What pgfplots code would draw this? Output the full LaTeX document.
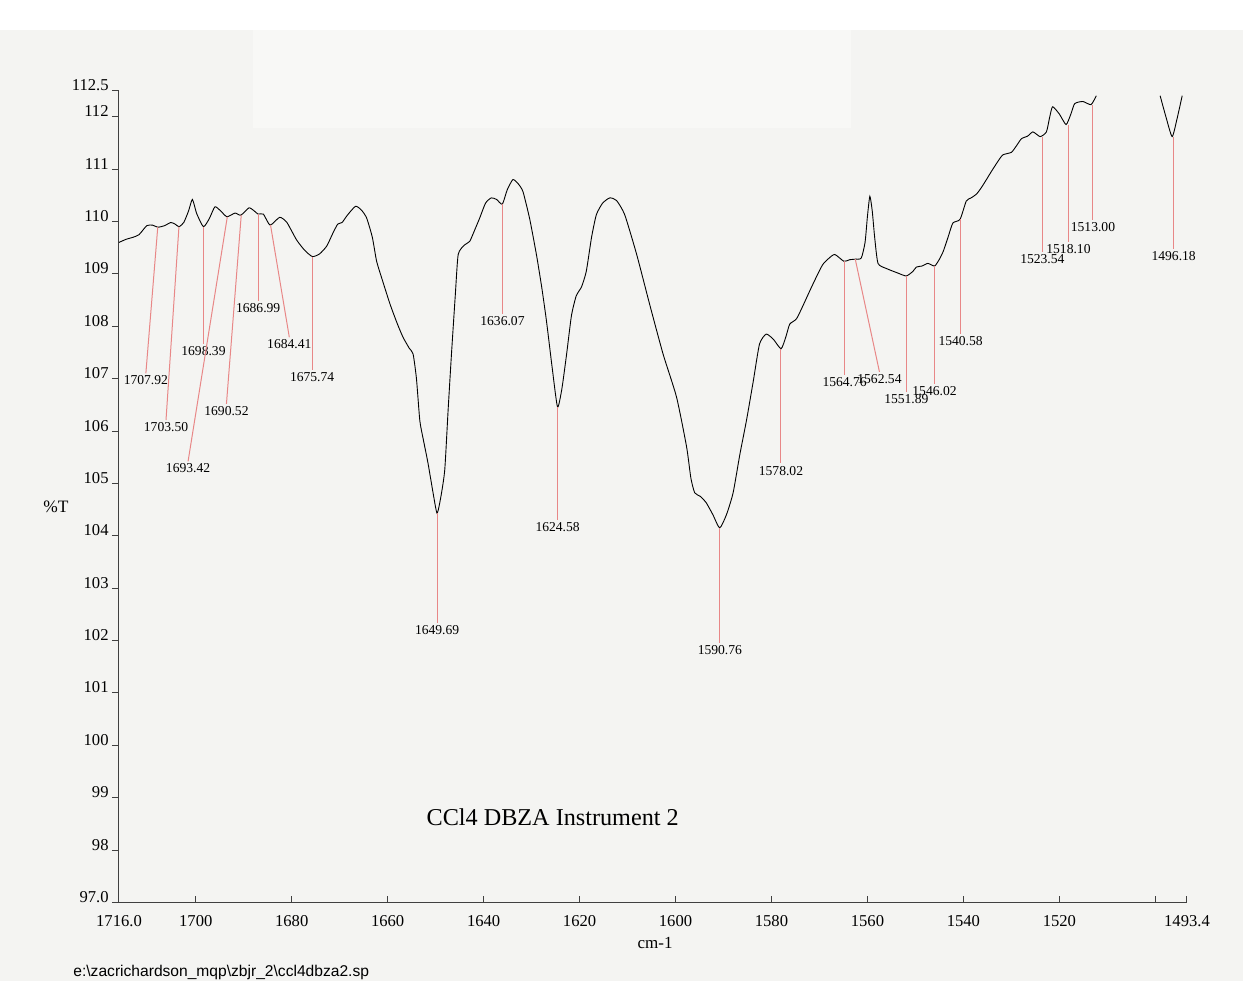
\documentclass[border=0pt]{standalone}
\usepackage{pgfplots}
\pgfplotsset{compat=1.18}
\usepackage{fontspec}
\setmainfont{Liberation Serif}
\setsansfont{Liberation Sans}
\definecolor{paper}{RGB}{244,244,242}
\definecolor{patch}{RGB}{248,248,246}
\definecolor{peak}{RGB}{232,135,135}
\tikzset{lbl/.style={font=\fontsize{6.8}{8}\selectfont, text=black, inner sep=1pt, anchor=north}}
\pgfplotstableread{
x y
1716.0 109.60
1714.5 109.66
1713.0 109.70
1711.8 109.75
1710.2 109.92
1709.0 109.93
1707.9 109.89
1706.5 109.92
1705.2 109.98
1704.3 109.95
1703.5 109.90
1702.5 109.98
1701.5 110.20
1700.7 110.42
1699.8 110.15
1698.4 109.90
1697.2 110.05
1696.0 110.28
1694.8 110.20
1693.5 110.09
1691.8 110.16
1690.6 110.12
1688.9 110.26
1687.8 110.20
1687.0 110.14
1685.9 110.14
1684.5 109.93
1682.5 110.08
1681.0 109.98
1679.0 109.65
1677.3 109.45
1675.7 109.33
1674.2 109.38
1672.7 109.53
1671.4 109.78
1670.4 109.95
1669.5 109.98
1668.4 110.12
1666.7 110.29
1665.5 110.22
1664.4 110.07
1663.2 109.70
1662.3 109.24
1661.0 108.85
1659.5 108.42
1658.0 108.05
1656.8 107.79
1655.5 107.58
1654.7 107.47
1654.0 107.00
1653.3 106.20
1652.6 105.85
1651.6 105.39
1650.5 104.80
1649.7 104.43
1648.9 104.75
1648.1 105.26
1647.4 106.40
1646.7 107.47
1645.9 108.60
1645.3 109.37
1644.0 109.55
1642.9 109.62
1641.8 109.85
1640.8 110.07
1639.6 110.35
1638.4 110.45
1637.3 110.42
1636.1 110.33
1635.1 110.60
1633.9 110.80
1632.8 110.72
1631.8 110.57
1630.4 110.05
1629.0 109.37
1627.9 108.75
1626.9 108.10
1625.7 107.20
1624.6 106.46
1623.7 106.80
1622.7 107.47
1621.7 108.20
1620.7 108.58
1619.6 108.75
1618.6 109.05
1617.5 109.70
1616.5 110.13
1615.2 110.35
1613.7 110.45
1612.3 110.40
1610.6 110.13
1608.1 109.37
1605.4 108.42
1602.6 107.47
1599.8 106.65
1597.7 105.70
1596.8 105.10
1596.0 104.82
1594.8 104.75
1593.6 104.63
1592.2 104.40
1590.8 104.15
1589.4 104.40
1588.0 104.82
1586.6 105.55
1585.2 106.21
1583.8 106.95
1582.5 107.66
1581.1 107.85
1579.6 107.75
1578.0 107.57
1577.0 107.80
1576.2 108.04
1574.8 108.14
1573.4 108.40
1572.0 108.68
1570.6 108.95
1569.3 109.18
1568.0 109.30
1566.8 109.37
1564.9 109.24
1563.7 109.27
1562.6 109.28
1561.3 109.30
1560.5 109.60
1560.0 110.10
1559.5 110.48
1559.0 110.20
1558.5 109.70
1557.8 109.20
1556.0 109.10
1553.8 109.02
1551.9 108.96
1550.5 109.05
1549.8 109.13
1548.6 109.15
1547.4 109.20
1546.0 109.15
1545.0 109.28
1544.2 109.43
1543.2 109.70
1542.2 109.97
1540.7 110.04
1539.4 110.39
1538.4 110.45
1537.3 110.52
1536.3 110.64
1535.2 110.80
1534.2 110.95
1533.0 111.12
1531.8 111.27
1530.0 111.32
1528.9 111.45
1527.9 111.58
1526.6 111.63
1525.5 111.71
1524.0 111.62
1522.7 111.71
1522.0 112.00
1521.4 112.19
1520.0 112.05
1518.6 111.85
1517.6 112.05
1516.8 112.25
1515.1 112.29
1513.4 112.23
1512.3 112.40
}\specA
\pgfplotstableread{
x y
1499.0 112.40
1497.8 112.00
1496.5 111.62
1495.5 111.95
1494.4 112.40
}\specB
\begin{document}
\begin{tikzpicture}
\fill[paper] (-59.5pt,-39.25pt) rectangle (562pt,451.25pt);
\fill[white] (-59.5pt,436.25pt) rectangle (562pt,451.25pt);
\fill[patch] (67pt,387.25pt) rectangle (366pt,436.25pt);
\begin{axis}[
  at={(0pt,0pt)}, anchor=south west,
  scale only axis, width=534pt, height=406pt,
  x dir=reverse, xmin=1493.4, xmax=1716, ymin=97, ymax=112.5,
  axis x line*=bottom, axis y line*=left,
  axis line style={-, line width=0.5pt, black!75},
  xtick={1716,1700,1680,1660,1640,1620,1600,1580,1560,1540,1520,1500,1493.4},
  xticklabels={1716.0,1700,1680,1660,1640,1620,1600,1580,1560,1540,1520,,1493.4},
  ytick={97,98,99,100,101,102,103,104,105,106,107,108,109,110,111,112,112.5},
  yticklabels={97.0,98,99,100,101,102,103,104,105,106,107,108,109,110,111,112,112.5},
  tick align=inside, major tick length=3.5pt,
  tick style={black!75, line width=0.5pt},
  ytick style={xshift=-3.5pt},
  tick label style={font=\fontsize{8.3}{10}\selectfont},
  yticklabel style={anchor=base east, inner sep=1pt, xshift=-4pt},
  xticklabel style={yshift=-3pt},
  /pgf/number format/assume math mode=true,
  clip=false,
]
\addplot[black, line width=0.45pt, smooth, tension=0.35] table[x=x,y=y] {\specA};
\addplot[black, line width=0.45pt, smooth, tension=0.35] table[x=x,y=y] {\specB};
\draw[peak, line width=0.5pt] (axis cs:1707.92,109.89) -- (axis cs:1710.4,107.10) node[lbl]{1707.92};
\draw[peak, line width=0.5pt] (axis cs:1703.50,109.90) -- (axis cs:1706.2,106.21) node[lbl]{1703.50};
\draw[peak, line width=0.5pt] (axis cs:1698.39,109.90) -- (axis cs:1698.39,107.67) node[lbl]{1698.39};
\draw[peak, line width=0.5pt] (axis cs:1693.42,110.09) -- (axis cs:1701.6,105.42) node[lbl]{1693.42};
\draw[peak, line width=0.5pt] (axis cs:1690.52,110.12) -- (axis cs:1693.6,106.52) node[lbl]{1690.52};
\draw[peak, line width=0.5pt] (axis cs:1686.99,110.14) -- (axis cs:1686.99,108.49) node[lbl]{1686.99};
\draw[peak, line width=0.5pt] (axis cs:1684.41,109.93) -- (axis cs:1680.5,107.79) node[lbl]{1684.41};
\draw[peak, line width=0.5pt] (axis cs:1675.74,109.33) -- (axis cs:1675.74,107.16) node[lbl]{1675.74};
\draw[peak, line width=0.5pt] (axis cs:1649.69,104.43) -- (axis cs:1649.69,102.33) node[lbl]{1649.69};
\draw[peak, line width=0.5pt] (axis cs:1636.07,110.33) -- (axis cs:1636.07,108.24) node[lbl]{1636.07};
\draw[peak, line width=0.5pt] (axis cs:1624.58,106.46) -- (axis cs:1624.58,104.30) node[lbl]{1624.58};
\draw[peak, line width=0.5pt] (axis cs:1590.76,104.15) -- (axis cs:1590.76,101.95) node[lbl]{1590.76};
\draw[peak, line width=0.5pt] (axis cs:1578.02,107.57) -- (axis cs:1578.02,105.38) node[lbl]{1578.02};
\draw[peak, line width=0.5pt] (axis cs:1564.76,109.24) -- (axis cs:1564.76,107.06) node[lbl]{1564.76};
\draw[peak, line width=0.5pt] (axis cs:1562.54,109.28) -- (axis cs:1557.5,107.13) node[lbl]{1562.54};
\draw[peak, line width=0.5pt] (axis cs:1551.89,108.96) -- (axis cs:1551.89,106.75) node[lbl]{1551.89};
\draw[peak, line width=0.5pt] (axis cs:1546.02,109.15) -- (axis cs:1546.02,106.90) node[lbl]{1546.02};
\draw[peak, line width=0.5pt] (axis cs:1540.58,110.04) -- (axis cs:1540.58,107.86) node[lbl]{1540.58};
\draw[peak, line width=0.5pt] (axis cs:1523.54,111.62) -- (axis cs:1523.54,109.41) node[lbl]{1523.54};
\draw[peak, line width=0.5pt] (axis cs:1518.10,111.85) -- (axis cs:1518.10,109.60) node[lbl]{1518.10};
\draw[peak, line width=0.5pt] (axis cs:1513.00,112.23) -- (axis cs:1513.00,110.02) node[lbl]{1513.00};
\draw[peak, line width=0.5pt] (axis cs:1496.18,111.62) -- (axis cs:1496.18,109.48) node[lbl]{1496.18};
\node[font=\fontsize{12.1}{14}\selectfont] at (axis cs:1625.6,98.62) {CCl4 DBZA Instrument 2};
\node[font=\fontsize{8.7}{10}\selectfont, inner sep=0pt] at (axis description cs:0,0.487) [xshift=-31.5pt] {\%T};
\node[font=\fontsize{8.5}{10}\selectfont, inner sep=0pt] at (axis description cs:0.502,0) [yshift=-20.25pt] {cm-1};
\node[font=\sffamily\fontsize{7.8}{9}\selectfont, inner sep=0pt, anchor=west] at (axis description cs:0,0) [xshift=-23pt, yshift=-34.75pt] {e:\textbackslash zacrichardson\_mqp\textbackslash zbjr\_2\textbackslash ccl4dbza2.sp};
\end{axis}
\end{tikzpicture}
\end{document}
